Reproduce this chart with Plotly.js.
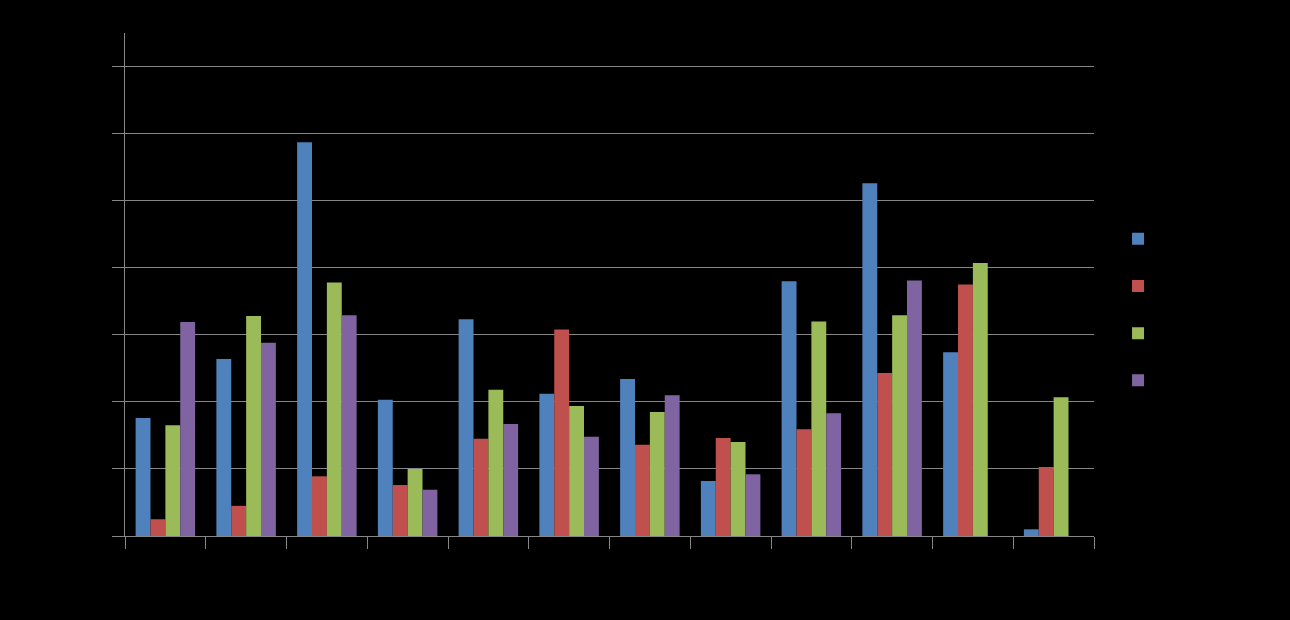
<!DOCTYPE html>
<html>
<head>
<meta charset="utf-8">
<script src="https://cdn.plot.ly/plotly-3.0.1.min.js"></script>
<style>html,body{margin:0;padding:0;background:#000;}#chart{width:1290px;height:620px;}</style>
</head>
<body>
<div id="chart"></div>
<script>
const categories = ["1","2","3","4","5","6","7","8","9","10","11","12"];
const seriesNames = ["Series 1","Series 2","Series 3","Series 4"];
const series1 = [1.76, 2.64, 5.87, 2.03, 3.23, 2.12, 2.34, 0.82, 3.80, 5.26, 2.74, 0.10];
const series2 = [0.25, 0.45, 0.89, 0.76, 1.45, 3.08, 1.36, 1.46, 1.59, 2.43, 3.75, 1.03];
const series3 = [1.65, 3.28, 3.78, 1.00, 2.18, 1.94, 1.85, 1.40, 3.20, 3.29, 4.07, 2.07];
const series4 = [3.19, 2.88, 3.29, 0.69, 1.67, 1.48, 2.10, 0.92, 1.83, 3.81, null, null];
const colors = ["#4F81BD","#C0504D","#9BBB59","#8064A2"];

const allSeries = [series1, series2, series3, series4];
const traces = allSeries.map((vals, i) => ({
  type: "bar",
  name: seriesNames[i],
  x: categories,
  y: vals,
  marker: {color: colors[i]},
  hoverinfo: "x+y+name"
}));

const layout = {
  width: 1290, height: 620,
  paper_bgcolor: "#000", plot_bgcolor: "#000",
  margin: {l: 125, r: 196, t: 33, b: 84, autoexpand: false},
  font: {family: "Liberation Sans, Arial, sans-serif", size: 13, color: "#000"},
  barmode: "group",
  bargap: 0.263,
  bargroupgap: 0,
  showlegend: true,
  legend: {
    x: 1.0248, xanchor: "left", y: 0.45, yanchor: "middle",
    font: {size: 34, color: "#000"},
    bgcolor: "rgba(0,0,0,0)",
    itemclick: false
  },
  xaxis: {
    type: "category",
    showline: true, linecolor: "#868686", linewidth: 1,
    ticks: "outside", ticklen: 12, tickcolor: "#868686", tickson: "boundaries",
    showgrid: false, zeroline: false, automargin: false,
    tickfont: {color: "#000"}
  },
  yaxis: {
    range: [0, 7.5], dtick: 1, tick0: 0,
    showline: true, linecolor: "#868686", linewidth: 1,
    ticks: "outside", ticklen: 12, tickcolor: "#868686",
    showgrid: true, gridcolor: "#868686", gridwidth: 1,
    zeroline: false, automargin: false,
    tickfont: {color: "#000"}
  }
};

Plotly.newPlot("chart", traces, layout, {displayModeBar: false, staticPlot: true});
</script>
</body>
</html>
